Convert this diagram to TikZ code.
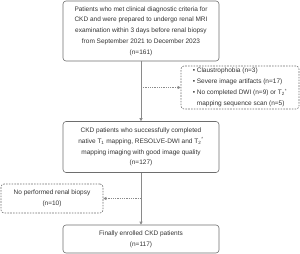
\documentclass[tikz,border=0pt]{standalone}
\usepackage{fontspec}
\setmainfont{Liberation Sans}
\usetikzlibrary{arrows.meta, positioning}
\definecolor{grisborde}{HTML}{6E6E6E}
\definecolor{grislinea}{HTML}{8A8A8A}
\definecolor{gristexto}{HTML}{333333}
\tikzset{
  cajaBase/.style={
    draw=grisborde, semithick, rounded corners=3pt,
    align=center, font=\fontsize{6.5}{10.8}\selectfont, text=gristexto,
    inner sep=2pt
  },
  cajaExcluida/.style={cajaBase, dashed, dash pattern=on 1.6pt off 1.2pt},
  flecha/.style={-{Triangle[length=3pt, width=3pt]}, semithick, grislinea},
  flechaPunteada/.style={-{Triangle[length=3pt, width=3pt]}, semithick, grislinea,
    dash pattern=on 1pt off 0.8pt},
}
\newcommand{\Tdos}{T\textsubscript{2}\textsuperscript{*}}
\begin{document}
\begin{tikzpicture}[x=1pt, y=-1pt]
  \useasboundingbox (0,0) rectangle (300,254);
  \node[cajaBase, minimum width=156pt, minimum height=60pt] (inicio) at (141,31)
    {Patients who met clinical diagnostic criteria for\\
     CKD and were prepared to undergo renal MRI\\
     examination within 3 days before renal biopsy\\
     from September 2021 to December 2023\\
     (n=161)};
  \node[cajaExcluida, minimum width=118pt, minimum height=43pt, align=left] (excl) at (240,87.5)
    {\textbullet\ Claustrophobia (n=3)\\
     \textbullet\ Severe image artifacts (n=17)\\
     \textbullet\ No completed DWI (n=9) or \Tdos\\
     \phantom{\textbullet\ }mapping sequence scan (n=5)};
  \node[cajaBase, minimum width=156pt, minimum height=51pt] (imagen) at (141,147)
    {CKD patients who successfully completed\\
     native T\textsubscript{1} mapping, RESOLVE-DWI and \Tdos\\
     mapping imaging with good image quality\\
     (n=127)};
  \node[cajaExcluida, minimum width=102pt, minimum height=29pt] (biopsia) at (52,198.5)
    {No performed renal biopsy\\ (n=10)};
  \node[cajaBase, minimum width=156pt, minimum height=28pt] (final) at (141,239)
    {Finally enrolled CKD patients\\ (n=117)};
  \draw[flecha] (inicio) -- (imagen);
  \draw[flecha] (imagen) -- (final);
  \draw[flechaPunteada] (inicio.south |- excl.west) -- (excl.west);
  \draw[flechaPunteada] (imagen.south |- biopsia.east) -- (biopsia.east);
\end{tikzpicture}
\end{document}
